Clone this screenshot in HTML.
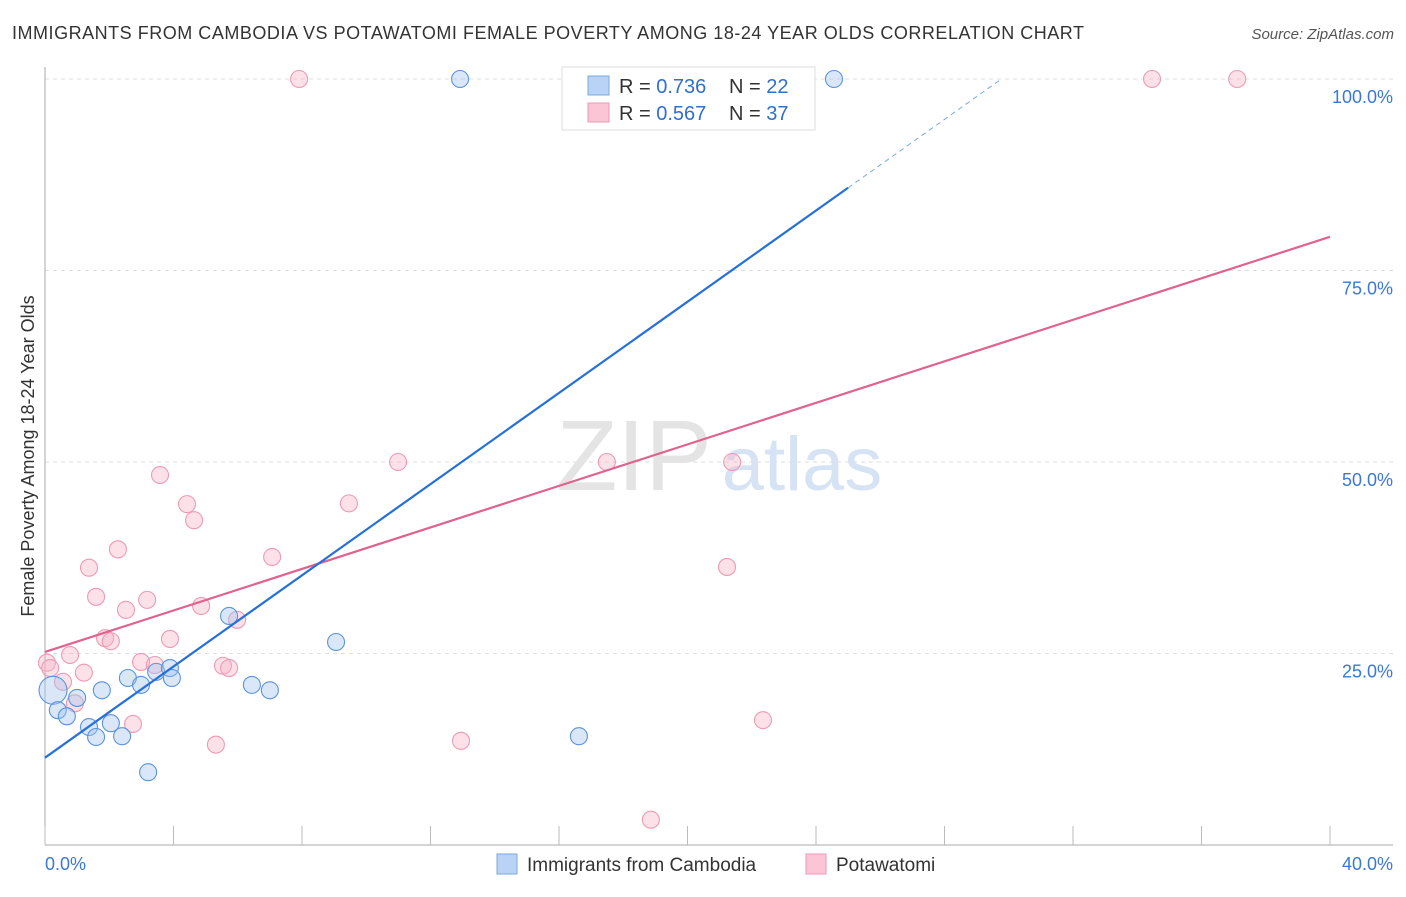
<!DOCTYPE html>
<html><head><meta charset="utf-8"><style>
body{margin:0;background:#fff;font-family:"Liberation Sans",sans-serif;}
svg text{font-family:"Liberation Sans",sans-serif;}
</style></head><body>
<svg id="chart" width="1406" height="892" xmlns="http://www.w3.org/2000/svg">
<text x="12" y="39" font-size="18" fill="#333" textLength="1072" lengthAdjust="spacing">IMMIGRANTS FROM CAMBODIA VS POTAWATOMI FEMALE POVERTY AMONG 18-24 YEAR OLDS CORRELATION CHART</text>
<text x="1394" y="39" font-size="15" font-style="italic" fill="#555" text-anchor="end">Source: ZipAtlas.com</text>
<g id="grid"></g>
<g>
<text x="634" y="490" font-size="100" font-family="Liberation Serif" fill="#e4e4e4" text-anchor="middle">ZIP</text>
<text x="802" y="490" font-size="76" fill="#d5e3f5" text-anchor="middle">atlas</text>
</g>
<g id="axes"></g>
<g id="marks"></g>
<text transform="translate(34,456) rotate(-90)" font-size="18" fill="#333" text-anchor="middle">Female Poverty Among 18-24 Year Olds</text>
<g>
<rect x="562" y="67" width="253" height="63" fill="#fff" stroke="#ddd"/>
<rect x="588" y="76" width="21" height="19" fill="#b8d3f5" stroke="#7aa8e0"/>
<rect x="588" y="103" width="21" height="19" fill="#fbc5d5" stroke="#ef98b3"/>
<text x="619" y="93" font-size="20" fill="#333">R = <tspan fill="#2f6fd0">0.736</tspan></text>
<text x="729" y="93" font-size="20" fill="#333">N = <tspan fill="#2f6fd0">22</tspan></text>
<text x="619" y="120" font-size="20" fill="#333">R = <tspan fill="#2f6fd0">0.567</tspan></text>
<text x="729" y="120" font-size="20" fill="#333">N = <tspan fill="#2f6fd0">37</tspan></text>
</g>
<g>
<rect x="497" y="854" width="20" height="20" fill="#b8d3f5" stroke="#7aa8e0"/>
<text x="527" y="871" font-size="19" fill="#333">Immigrants from Cambodia</text>
<rect x="806" y="854" width="20" height="20" fill="#fbc5d5" stroke="#ef98b3"/>
<text x="836" y="871" font-size="19" fill="#333">Potawatomi</text>
</g>
</svg>
<script>
const blueX=[0.25,0.40,0.68,1.0,1.37,1.59,1.77,2.05,2.40,2.58,2.99,3.21,3.46,3.89,3.95,5.73,6.44,7.0,9.06,16.62,12.92,24.56];
const blueY=[20.2,17.6,16.8,19.2,15.4,14.1,20.2,15.9,14.2,21.8,20.9,9.5,22.6,23.1,21.8,29.9,20.9,20.2,26.5,14.2,100,100];
const pinkX=[0.06,0.16,0.56,0.78,0.93,1.21,1.37,1.59,1.87,2.05,2.27,2.52,2.74,2.99,3.18,3.42,3.58,3.89,4.42,4.64,4.86,5.32,5.54,5.73,5.98,7.07,7.91,9.46,10.99,12.95,17.49,18.86,21.23,21.39,22.35,34.46,37.11];
const pinkY=[23.8,23.1,21.3,24.8,18.5,22.5,36.2,32.4,27.0,26.6,38.6,30.7,15.8,23.9,32.0,23.5,48.3,26.9,44.5,42.4,31.2,13.1,23.4,23.1,29.4,37.6,100,44.6,50,13.6,50,3.3,36.3,50,16.3,100,100];
const blueTrend=[11.4,2.976];
const pinkTrend=[25.2,1.355];
const yTicks=[25,50,75,100];
const yTickLabels=["25.0%","50.0%","75.0%","100.0%"];
const xTicks=[0,4,8,12,16,20,24,28,32,36,40];

const NS="http://www.w3.org/2000/svg";
const sx=v=>45+v*32.125, sy=v=>845-v*7.66;
function mk(tag,attrs,parent){const e=document.createElementNS(NS,tag);for(const k in attrs)e.setAttribute(k,attrs[k]);parent.appendChild(e);return e;}
const grid=document.getElementById('grid'),axes=document.getElementById('axes'),marks=document.getElementById('marks');
yTicks.forEach((t,i)=>{
 const l=mk('line',{x1:45,x2:1393,y1:sy(t),y2:sy(t),stroke:'#ddd','stroke-dasharray':'4,4'},grid);
 
 
 const tx=mk('text',{x:1393,y:sy(t)+24,'font-size':18,fill:'#3a78d6','text-anchor':'end'},axes);
 tx.textContent=yTickLabels[i];
 
 
});
const ya=mk('line',{x1:45,x2:45,y1:67,y2:845,stroke:'#aaa'},axes);


const xa=mk('line',{x1:45,x2:1393,y1:845,y2:845,stroke:'#aaa'},axes);


xTicks.forEach(t=>{
 const l=mk('line',{x1:sx(t),x2:sx(t),y1:826,y2:845,stroke:'#bbb'},axes);
 
 
});
[[0,'0.0%','start',45],[40,'40.0%','end',1393]].forEach(a=>{
 const tx=mk('text',{x:a[3],y:870,'font-size':18,fill:'#3a78d6','text-anchor':a[2]},axes);
 tx.textContent=a[1];
 
 
});
pinkX.forEach((x,i)=>{
 const c=mk('circle',{cx:sx(x),cy:sy(pinkY[i]),r:8.5,fill:'rgba(248,180,200,0.4)',stroke:'#ee9ab4','stroke-width':1.1},marks);
 
 
});
blueX.forEach((x,i)=>{
 const c=mk('circle',{cx:sx(x),cy:sy(blueY[i]),r:i===0?14:8.5,fill:'rgba(160,195,240,0.4)',stroke:'#5b93dd','stroke-width':1.1},marks);
 
 
});
const pl=mk('line',{x1:sx(0),y1:sy(pinkTrend[0]),x2:sx(40),y2:sy(pinkTrend[0]+40*pinkTrend[1]),stroke:'#e0628e','stroke-width':2.2},marks);


const bEnd=25, bMax=(100-blueTrend[0])/blueTrend[1];
const bl=mk('line',{x1:sx(0),y1:sy(blueTrend[0]),x2:sx(bEnd),y2:sy(blueTrend[0]+bEnd*blueTrend[1]),stroke:'#2670d8','stroke-width':2.2},marks);


const bd=mk('line',{x1:sx(bEnd),y1:sy(blueTrend[0]+bEnd*blueTrend[1]),x2:sx(bMax),y2:sy(100),stroke:'#7aa8e0','stroke-width':1,'stroke-dasharray':'5,4'},marks);


</script>
</body></html>
